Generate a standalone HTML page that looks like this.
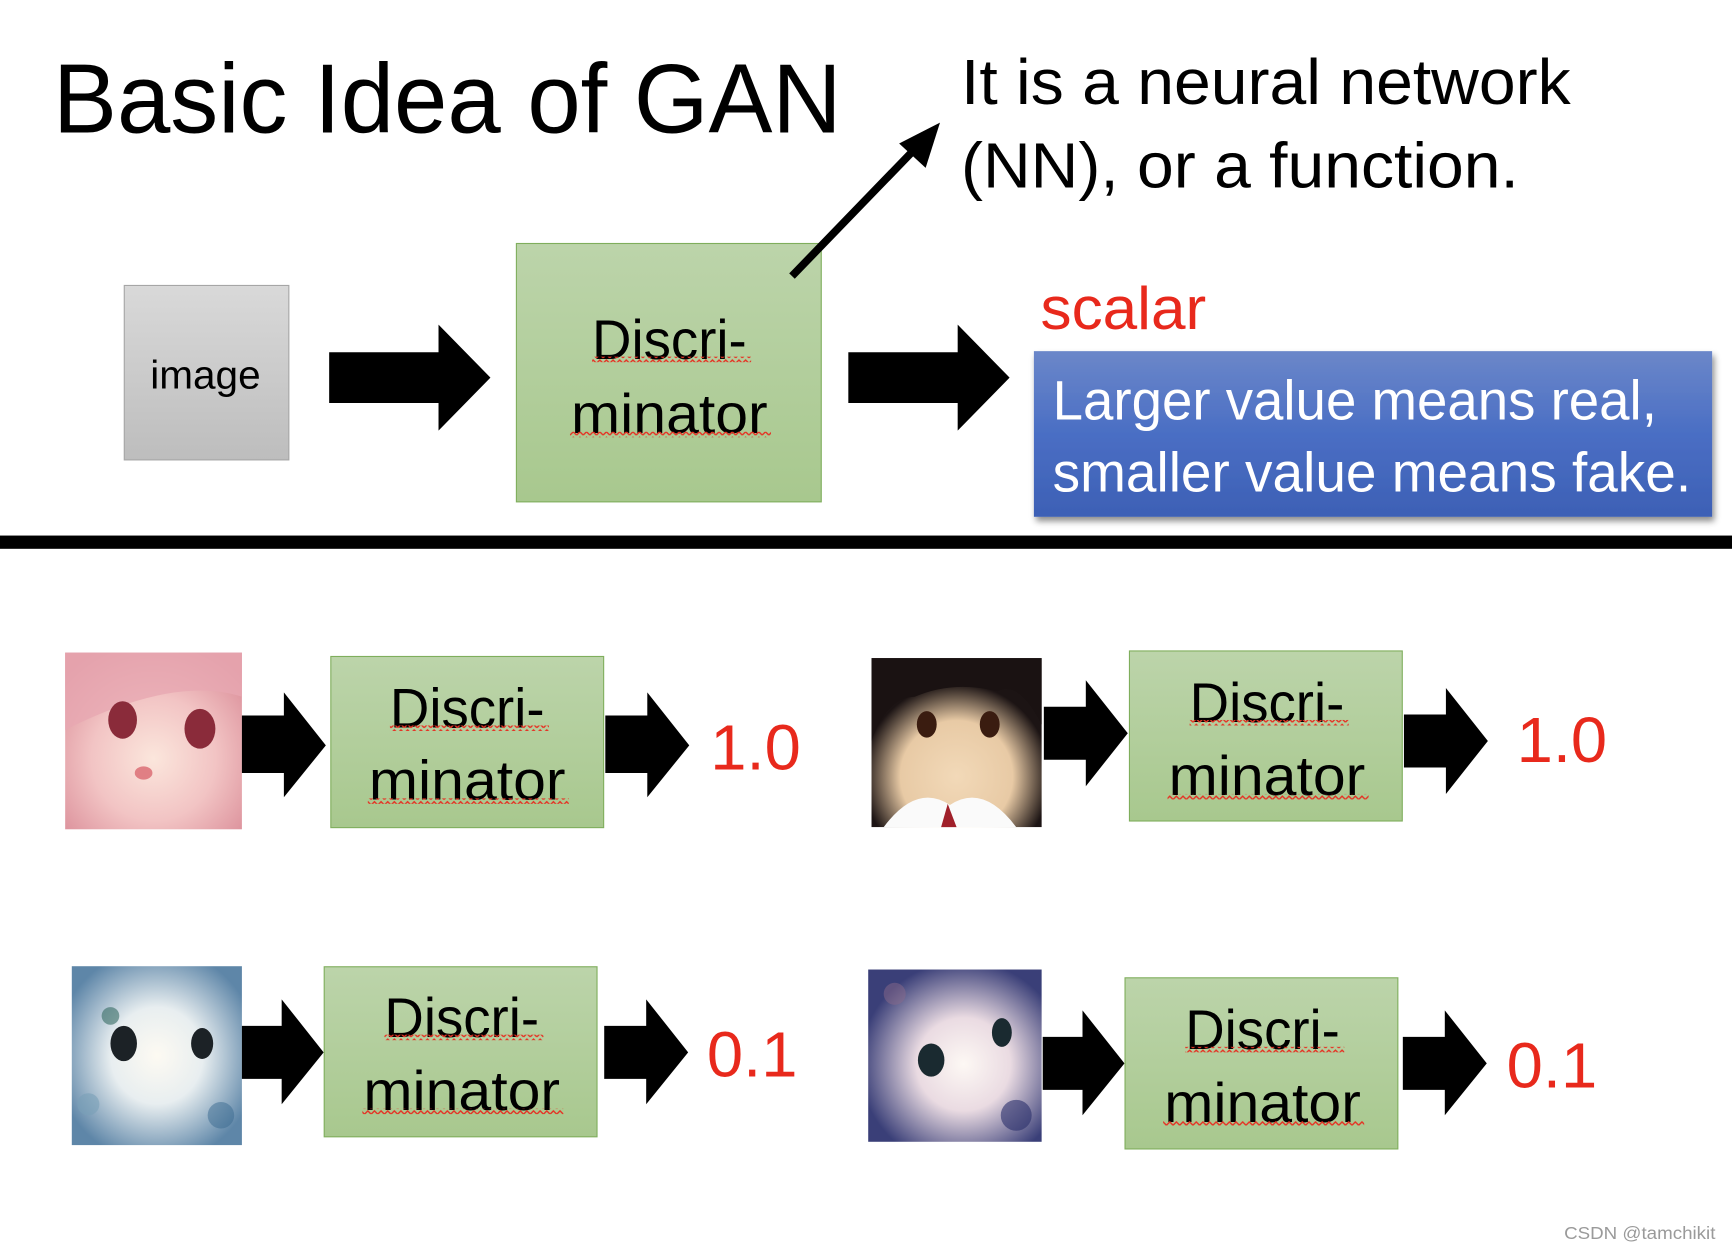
<!DOCTYPE html>
<html><head><meta charset="utf-8"><style>
html,body{margin:0;padding:0;background:#fff;width:1732px;height:1250px;overflow:hidden}
svg{display:block}
text{font-family:"Liberation Sans",sans-serif}
</style></head><body>
<svg width="1732" height="1250" viewBox="0 0 1568 1132" preserveAspectRatio="none" xmlns="http://www.w3.org/2000/svg">
<defs>
<linearGradient id="gr" x1="0" y1="0" x2="0" y2="1"><stop offset="0" stop-color="#bcd4aa"/><stop offset="1" stop-color="#a8c88e"/></linearGradient>
<linearGradient id="gy" x1="0" y1="0" x2="0" y2="1"><stop offset="0" stop-color="#d9d9d9"/><stop offset="1" stop-color="#bdbdbd"/></linearGradient>
<linearGradient id="bl" x1="0" y1="0" x2="0" y2="1"><stop offset="0" stop-color="#6b87c9"/><stop offset="0.5" stop-color="#4a6ec4"/><stop offset="1" stop-color="#3d60b5"/></linearGradient>
<pattern id="wv" width="6" height="5" patternUnits="userSpaceOnUse"><path d="M0 4 L3 1 L6 4" fill="none" stroke="#e53224" stroke-width="1.3"/></pattern>
<radialGradient id="pink" cx="0.5" cy="0.6" r="0.7"><stop offset="0" stop-color="#fbe6dc"/><stop offset="0.5" stop-color="#f2c4c4"/><stop offset="1" stop-color="#d98a96"/></radialGradient>
<radialGradient id="dark" cx="0.5" cy="0.7" r="0.55"><stop offset="0" stop-color="#f2d9b8"/><stop offset="0.6" stop-color="#e8caa5"/><stop offset="1" stop-color="#1c1414"/></radialGradient>
<radialGradient id="n1" cx="0.5" cy="0.5" r="0.6"><stop offset="0" stop-color="#fdfaf2"/><stop offset="0.45" stop-color="#e8eef0"/><stop offset="1" stop-color="#5e86a8"/></radialGradient>
<radialGradient id="n2" cx="0.55" cy="0.55" r="0.6"><stop offset="0" stop-color="#fdf8f4"/><stop offset="0.45" stop-color="#eadbe2"/><stop offset="1" stop-color="#3a3f78"/></radialGradient>
<filter id="sh" x="-5%" y="-5%" width="110%" height="120%"><feDropShadow dx="2" dy="4" stdDeviation="3" flood-color="#000" flood-opacity="0.45"/></filter>
</defs>

<text x="48" y="120" font-size="89" textLength="714" lengthAdjust="spacingAndGlyphs">Basic Idea of GAN</text>
<text x="870" y="94" font-size="58" textLength="552" lengthAdjust="spacingAndGlyphs">It is a neural network</text>
<text x="870" y="170" font-size="58" textLength="505" lengthAdjust="spacingAndGlyphs">(NN), or a function.</text>

<rect x="112.5" y="258.5" width="149" height="158" fill="url(#gy)" stroke="#a6a6a6"/>
<text x="186" y="352" font-size="36" text-anchor="middle" textLength="100" lengthAdjust="spacingAndGlyphs">image</text>
<polygon points="298,319 397,319 397,294 444,342 397,390 397,365 298,365" fill="#000"/>
<rect x="467.5" y="220.5" width="276" height="234" fill="url(#gr)" stroke="#7fae5c"/>
<text x="606" y="325" font-size="50" text-anchor="middle" textLength="140" lengthAdjust="spacingAndGlyphs">Discri-</text>
<rect x="536" y="323" width="144" height="5" fill="url(#wv)"/>
<text x="606" y="392" font-size="50" text-anchor="middle" textLength="178" lengthAdjust="spacingAndGlyphs">minator</text>
<rect x="516" y="391" width="182" height="5" fill="url(#wv)"/>

<!-- pointer arrow (drawn after box) -->
<line x1="717" y1="250" x2="834" y2="129" stroke="#000" stroke-width="7"/>
<polygon points="851,111 814,130 838,152" fill="#000"/>

<polygon points="768,319 867,319 867,294 914,342 867,390 867,365 768,365" fill="#000"/>
<text x="942" y="298" font-size="55" fill="#e8291c" textLength="150" lengthAdjust="spacingAndGlyphs">scalar</text>
<rect x="936" y="318" width="614" height="150" fill="url(#bl)" filter="url(#sh)"/>
<text x="953" y="380" font-size="50" fill="#fff" textLength="547" lengthAdjust="spacingAndGlyphs">Larger value means real,</text>
<text x="953" y="445" font-size="50" fill="#fff" textLength="578" lengthAdjust="spacingAndGlyphs">smaller value means fake.</text>

<rect x="0" y="485" width="1568" height="12" fill="#000"/>

<rect x="59" y="591" width="160" height="160" fill="url(#pink)"/>
<path d="M59 591 h160 v40 q-60 -20 -160 30 z" fill="#e7a7b1" opacity="0.8"/>
<ellipse cx="111" cy="652" rx="13" ry="17" fill="#8a2b3a"/><ellipse cx="181" cy="660" rx="14" ry="18" fill="#8a2b3a"/>
<ellipse cx="130" cy="700" rx="8" ry="6" fill="#e07f84"/>

<rect x="789" y="596" width="154" height="153" fill="url(#dark)"/>
<path d="M789 596 h154 v60 q-20 -40 -40 -30 q-40 -10 -75 5 q-25 0 -39 40 z" fill="#1a1212"/>
<ellipse cx="839" cy="656" rx="9" ry="12" fill="#3a1c10"/><ellipse cx="896" cy="656" rx="9" ry="12" fill="#3a1c10"/>
<path d="M800 749 q30 -40 60 -20 q30 -20 60 20 z" fill="#fafafa"/>
<path d="M858 728 l-6 21 h14 z" fill="#a0202a"/>

<rect x="65" y="875" width="154" height="162" fill="url(#n1)"/>
<ellipse cx="112" cy="945" rx="12" ry="16" fill="#1c2226"/><ellipse cx="183" cy="945" rx="10" ry="14" fill="#1c2226"/>
<circle cx="100" cy="920" r="8" fill="#356b62" opacity="0.6"/><circle cx="200" cy="1010" r="12" fill="#3a6a90" opacity="0.5"/><circle cx="80" cy="1000" r="10" fill="#7aa0b8" opacity="0.6"/>

<rect x="786" y="878" width="157" height="156" fill="url(#n2)"/>
<ellipse cx="843" cy="960" rx="12" ry="15" fill="#1a2a30"/><ellipse cx="907" cy="935" rx="9" ry="13" fill="#1a2a30"/>
<circle cx="810" cy="900" r="10" fill="#8a6a8a" opacity="0.5"/><circle cx="920" cy="1010" r="14" fill="#2a2f6a" opacity="0.6"/>

<polygon points="219,648 257,648 257,627 295,675 257,722 257,700 219,700" fill="#000"/>
<rect x="299.5" y="594.5" width="247" height="155" fill="url(#gr)" stroke="#7fae5c"/>
<text x="423" y="659" font-size="50" text-anchor="middle" textLength="140" lengthAdjust="spacingAndGlyphs">Discri-</text>
<rect x="353" y="657" width="144" height="5" fill="url(#wv)"/>
<text x="423" y="724" font-size="50" text-anchor="middle" textLength="178" lengthAdjust="spacingAndGlyphs">minator</text>
<rect x="333" y="723" width="182" height="5" fill="url(#wv)"/>
<polygon points="548,648 586,648 586,627 624,675 586,722 586,700 548,700" fill="#000"/>
<text x="643" y="697" font-size="58" fill="#e8291c" textLength="82" lengthAdjust="spacingAndGlyphs">1.0</text>

<polygon points="945,640 983,640 983,616 1021,664 983,712 983,688 945,688" fill="#000"/>
<rect x="1022.5" y="589.5" width="247" height="154" fill="url(#gr)" stroke="#7fae5c"/>
<text x="1147" y="654" font-size="50" text-anchor="middle" textLength="140" lengthAdjust="spacingAndGlyphs">Discri-</text>
<rect x="1077" y="652" width="144" height="5" fill="url(#wv)"/>
<text x="1147" y="720" font-size="50" text-anchor="middle" textLength="178" lengthAdjust="spacingAndGlyphs">minator</text>
<rect x="1057" y="719" width="182" height="5" fill="url(#wv)"/>
<polygon points="1271,647 1309,647 1309,623 1347,671 1309,719 1309,695 1271,695" fill="#000"/>
<text x="1373" y="690" font-size="58" fill="#e8291c" textLength="82" lengthAdjust="spacingAndGlyphs">1.0</text>

<polygon points="219,929 255,929 255,905 293,953 255,1000 255,977 219,977" fill="#000"/>
<rect x="293.5" y="875.5" width="247" height="154" fill="url(#gr)" stroke="#7fae5c"/>
<text x="418" y="939" font-size="50" text-anchor="middle" textLength="140" lengthAdjust="spacingAndGlyphs">Discri-</text>
<rect x="348" y="937" width="144" height="5" fill="url(#wv)"/>
<text x="418" y="1005" font-size="50" text-anchor="middle" textLength="178" lengthAdjust="spacingAndGlyphs">minator</text>
<rect x="328" y="1004" width="182" height="5" fill="url(#wv)"/>
<polygon points="547,929 585,929 585,905 623,953 585,1000 585,977 547,977" fill="#000"/>
<text x="640" y="975" font-size="58" fill="#e8291c" textLength="82" lengthAdjust="spacingAndGlyphs">0.1</text>

<polygon points="944,939 980,939 980,915 1018,963 980,1010 980,987 944,987" fill="#000"/>
<rect x="1018.5" y="885.5" width="247" height="155" fill="url(#gr)" stroke="#7fae5c"/>
<text x="1143" y="950" font-size="50" text-anchor="middle" textLength="140" lengthAdjust="spacingAndGlyphs">Discri-</text>
<rect x="1073" y="948" width="144" height="5" fill="url(#wv)"/>
<text x="1143" y="1016" font-size="50" text-anchor="middle" textLength="178" lengthAdjust="spacingAndGlyphs">minator</text>
<rect x="1053" y="1015" width="182" height="5" fill="url(#wv)"/>
<polygon points="1270,939 1308,939 1308,915 1346,963 1308,1010 1308,987 1270,987" fill="#000"/>
<text x="1364" y="985" font-size="58" fill="#e8291c" textLength="82" lengthAdjust="spacingAndGlyphs">0.1</text>

<text x="1416" y="1122" font-size="16" fill="#9a9a9a" textLength="137" lengthAdjust="spacingAndGlyphs">CSDN @tamchikit</text>
</svg>
</body></html>
